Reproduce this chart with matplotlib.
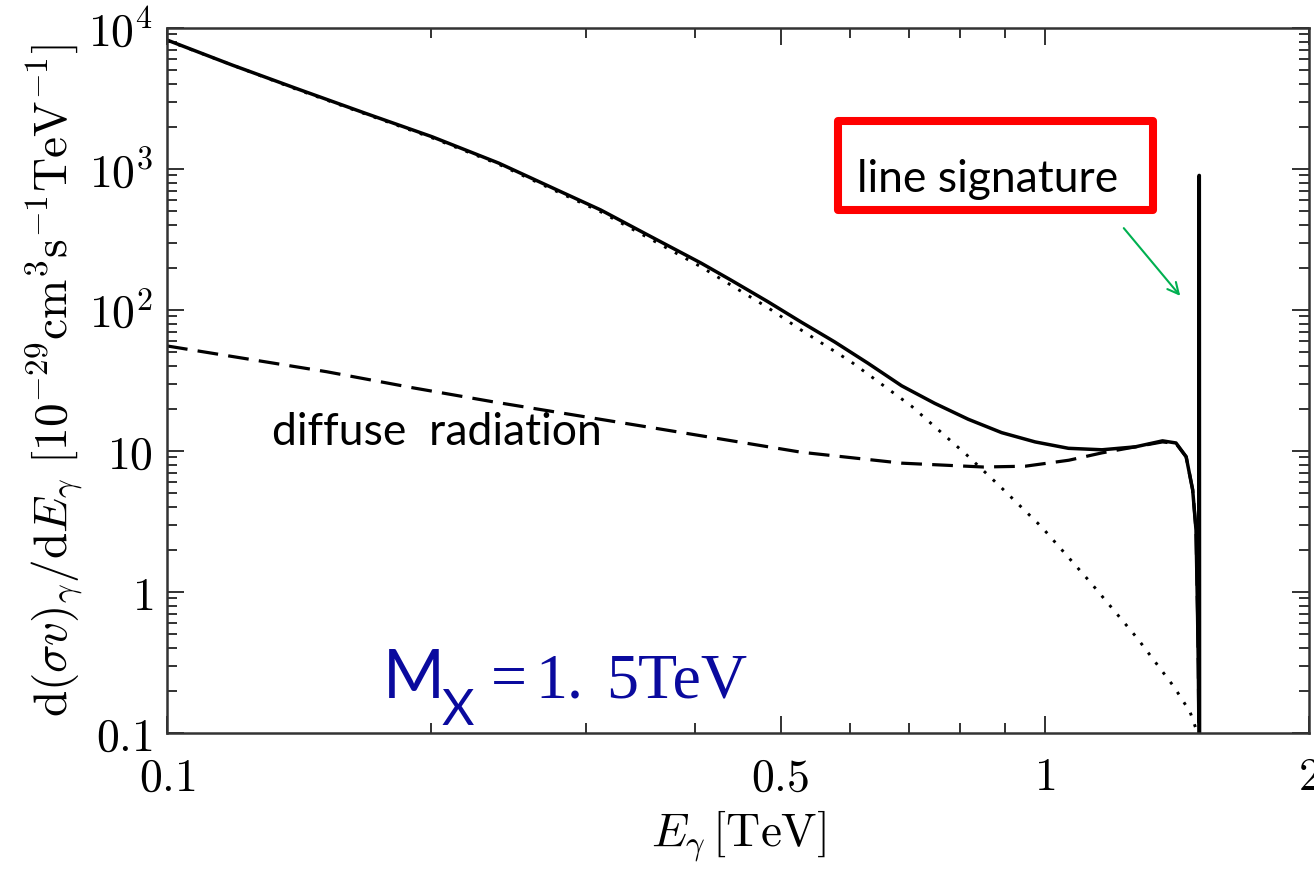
import numpy as np
import matplotlib
matplotlib.use("Agg")
import matplotlib.pyplot as plt
from matplotlib.patches import Rectangle, FancyArrowPatch
from matplotlib.ticker import FixedLocator, FixedFormatter, NullFormatter

plt.rcParams['mathtext.fontset'] = 'cm'
plt.rcParams['font.family'] = 'serif'

# total spectrum (solid), including the line at M = 1.5 TeV
e_total = [0.1, 0.1186, 0.1412, 0.1683, 0.2004, 0.2388, 0.281, 0.312, 0.356, 0.406,
           0.439, 0.4836, 0.528, 0.576, 0.629, 0.687, 0.749, 0.818, 0.893, 0.975,
           1.064, 1.162, 1.268, 1.362, 1.411, 1.449, 1.474, 1.487, 1.493, 1.496,
           1.498, 1.499, 1.5, 1.501]
f_total = [8220, 5466, 3676, 2483, 1694, 1100, 690, 512, 331, 215,
           163, 114.6, 82, 59.5, 41.9, 29, 21.8, 16.8, 13.5, 11.6,
           10.45, 10.2, 10.7, 11.8, 11.4, 9.1, 5.3, 2.75, 0.71, 0.3,
           0.12, 900, 900, 0.05]

# diffuse radiation (dashed)
e_diffuse = [0.1, 0.152, 0.191, 0.2355, 0.365, 0.528, 0.687, 0.851, 0.95, 1.065,
             1.162, 1.268, 1.362, 1.411, 1.449, 1.474, 1.487, 1.493, 1.496, 1.498]
f_diffuse = [55.6, 36.5, 28.0, 22.3, 14.3, 9.8, 8.2, 7.7, 7.8, 8.6,
             9.7, 10.7, 11.6, 11.3, 9.1, 5.3, 2.75, 0.71, 0.3, 0.1]

# continuum (dotted)
e_cont = [0.1, 0.1412, 0.2004, 0.2388, 0.281, 0.312, 0.356, 0.406, 0.4836, 0.528,
          0.602, 0.705, 0.815, 0.886, 0.992, 1.126, 1.274, 1.404, 1.464, 1.497]
f_cont = [8160, 3630, 1665, 1080, 672, 497, 317, 202, 104, 72,
          42.8, 20.8, 9.37, 5.74, 2.89, 1.18, 0.472, 0.212, 0.141, 0.095]

xticks = [0.1, 0.5, 1, 2]
xticklabels = ['$0.1$', '$0.5$', '$1$', '$2$']
yticks = [0.1, 1, 10, 100, 1000, 10000]
yticklabels = ['$0.1$', '$1$', '$10$', '$10^2$', '$10^3$', '$10^4$']

W, H = 1314, 869
fig = plt.figure(figsize=(W / 100, H / 100), dpi=100)
ax = fig.add_axes([167 / W, (H - 733) / H, (1309 - 167) / W, (733 - 28) / H])

ax.plot(e_cont, f_cont, color='black', lw=2.1, linestyle=(0, (1, 3.2)))
ax.plot(e_diffuse, f_diffuse, color='black', lw=2.3, linestyle=(0, (6.5, 3.2)))
ax.plot(e_total, f_total, color='black', lw=2.5)

ax.set_xscale('log')
ax.set_yscale('log')
ax.set_xlim(0.1, 2)
ax.set_ylim(0.1, 1e4)

ax.xaxis.set_major_locator(FixedLocator(xticks))
ax.xaxis.set_major_formatter(FixedFormatter(xticklabels))
ax.xaxis.set_minor_locator(FixedLocator([0.2, 0.3, 0.4, 0.6, 0.7, 0.8, 0.9]))
ax.xaxis.set_minor_formatter(NullFormatter())
ax.yaxis.set_major_locator(FixedLocator(yticks))
ax.yaxis.set_major_formatter(FixedFormatter(yticklabels))

ax.tick_params(which='both', direction='in', top=True, right=True,
               color='#222222', width=1.3)
ax.tick_params(which='major', length=12, labelsize=33)
ax.tick_params(which='minor', length=7)
ax.tick_params(axis='x', which='major', pad=16)
ax.tick_params(axis='y', which='major', pad=10)
for s in ax.spines.values():
    s.set_linewidth(1.8)
    s.set_color('#333333')

ax.set_xlabel(r'$E_\gamma\,[\mathrm{TeV}]$', fontsize=34, labelpad=6)
ax.set_ylabel(r'$\mathrm{d}(\sigma v)_\gamma/\mathrm{d}E_\gamma\ [10^{-29}\mathrm{cm}^3\mathrm{s}^{-1}\mathrm{TeV}^{-1}]$',
              fontsize=34, labelpad=2)

# annotations
fig.text(272 / W, (H - 445) / H, 'diffuse  radiation', family='Lato',
         fontsize=32, va='baseline', ha='left', color='black')

fig.patches.append(Rectangle((838 / W, (H - 210) / H), (1153 - 838) / W, (210 - 121) / H,
                             transform=fig.transFigure, fill=False,
                             edgecolor='#FF0000', lw=5.8, joinstyle='round'))
fig.text(857 / W, (H - 192) / H, 'line signature', family='Lato',
         fontsize=32, va='baseline', ha='left', color='black')
fig.patches.append(FancyArrowPatch((1122 / W, (H - 226) / H), (1182 / W, (H - 298) / H),
                                   transform=fig.transFigure, arrowstyle='->,head_length=8,head_width=4',
                                   color='#00B050', lw=1.5))

blue = '#0A0A9E'
fig.text(383 / W, (H - 698) / H, 'M', family='Lato', fontsize=48,
         va='baseline', ha='left', color=blue)
fig.text(441 / W, (H - 725) / H, 'X', family='Lato', fontsize=36,
         va='baseline', ha='left', color=blue)
fig.text(491 / W, (H - 697) / H, '=', family='Liberation Serif', fontsize=46,
         va='baseline', ha='left', color=blue)
fig.text(535 / W, (H - 697) / H, '1.', family='Liberation Serif', fontsize=46,
         va='baseline', ha='left', color=blue)
fig.text(606 / W, (H - 697) / H, '5TeV', family='Liberation Serif', fontsize=46,
         va='baseline', ha='left', color=blue)

fig.savefig('out.png', dpi=100)
